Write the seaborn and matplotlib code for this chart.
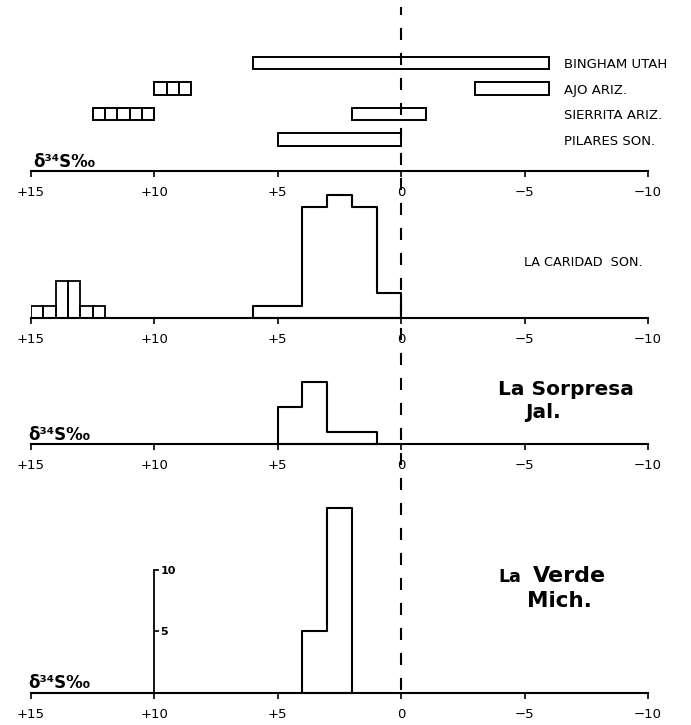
import numpy as np
import pandas as pd
import matplotlib
matplotlib.use("Agg")
import matplotlib.pyplot as plt
import seaborn as sns

# ---------------- data ----------------
tick_values = [15, 10, 5, 0, -5, -10]
tick_labels = ["+15", "+10", "+5", "0", "\u22125", "\u221210"]

# top panel: ranges of d34S (per mil) per deposit
deposits = ["PILARES SON.", "SIERRITA ARIZ.", "AJO ARIZ.", "BINGHAM UTAH"]
range_deposit = ["BINGHAM UTAH", "AJO ARIZ.", "AJO ARIZ.",
                 "SIERRITA ARIZ.", "SIERRITA ARIZ.", "PILARES SON."]
range_high = [6, 10, -3, 12.5, 2, 5]
range_low = [-6, 8.5, -6, 10, -1, 0]
range_nboxes = [1, 3, 1, 5, 1, 1]

# La Caridad, Son.
caridad_main_edges = [0, 1, 2, 3, 4, 5, 6]
caridad_main_counts = [2, 9, 10, 9, 1, 1]
caridad_high_edges = [12, 12.5, 13, 13.5, 14, 14.5, 15]
caridad_high_counts = [1, 1, 3, 3, 1, 1]
# La Sorpresa, Jal.
sorpresa_edges = [1, 2, 3, 4, 5]
sorpresa_counts = [1, 1, 5, 3]
# La Verde, Mich.
verde_edges = [2, 3, 4]
verde_counts = [15, 5]
verde_yticks = [5, 10]
verde_axis_x = 10

# ---------------- style ----------------
sns.set_style("ticks")
plt.rcParams["font.family"] = ["DejaVu Sans"]
for k in ["text.color", "axes.labelcolor", "xtick.color", "ytick.color",
          "axes.edgecolor"]:
    plt.rcParams[k] = "black"

W, H = 691, 725
fig = plt.figure(figsize=(W / 100, H / 100), dpi=100)
X0, X1 = 31, 648          # pixel columns of +15 and -10
PX_PER_COUNT = 12.35
LW = 1.5


def fx(px):
    return px / W


def fy(py):
    return 1 - py / H


def add_panel(base, top):
    ax = fig.add_axes([fx(X0), fy(base), (X1 - X0) / W, (base - top) / H])
    ax.patch.set_alpha(0)
    for s in ["top", "left", "right"]:
        ax.spines[s].set_visible(False)
    ax.spines["bottom"].set_linewidth(LW)
    ax.set_yticks([])
    return ax


def finish_x(ax):
    ax.set_xlim(15, -10)
    ax.set_xticks(tick_values)
    ax.set_xticklabels(tick_labels)
    ax.tick_params(axis="x", direction="out", length=4.5, width=1.2,
                   pad=6, labelsize=9.5, bottom=True, colors="black")
    ax.set_xlabel("")
    ax.set_ylabel("")


def hist_frame(edges, counts):
    e = [float(v) for v in edges]
    centers = [(a + b) / 2 for a, b in zip(e[:-1], e[1:])]
    return pd.DataFrame({"d34S": centers, "n": [float(c) for c in counts]}), e


def step_hist(ax, edges, counts):
    df, e = hist_frame(edges, counts)
    sns.histplot(data=df, x="d34S", weights="n", bins=e, element="step",
                 fill=True, color="black", facecolor=(1, 1, 1, 0),
                 edgecolor="black", linewidth=LW, clip_on=False, ax=ax)


def bar_hist(ax, edges, counts):
    df, e = hist_frame(edges, counts)
    sns.histplot(data=df, x="d34S", weights="n", bins=e, element="bars",
                 fill=False, color="black", linewidth=1.3, ax=ax)


def delta_label(py_base, px_left):
    fig.text(fx(px_left), fy(py_base), "\u03b4\u00b3\u2074S\u2030",
             fontsize=12, fontweight="bold", va="baseline", ha="left",
             color="black")


# ---------------- panel 1 : ranges ----------------
base1, top1 = 171, 0
row_px = 25.5
ax1 = add_panel(base1, top1)
row_pos = {d: i for i, d in enumerate(deposits)}
for dep, hi, lo, n in zip(range_deposit, range_high, range_low, range_nboxes):
    edges = np.linspace(hi, lo, n + 1)
    ax1.barh(y=[row_pos[dep]] * n, width=np.diff(edges), left=edges[:-1],
             height=0.5, fill=False, edgecolor="black", linewidth=1.4)
for dep, i in row_pos.items():
    ax1.text(-6.6, i - 0.06, dep, fontsize=9.5, va="center", ha="left",
             clip_on=False, color="black")
y0 = -31.5 / row_px
ax1.set_ylim(y0, y0 + (base1 - top1) / row_px)
finish_x(ax1)
delta_label(167, 33)

# ---------------- panel 2 : La Caridad ----------------
base2, top2 = 318, 185
ax2 = add_panel(base2, top2)
step_hist(ax2, caridad_main_edges, caridad_main_counts)
bar_hist(ax2, caridad_high_edges, caridad_high_counts)
ax2.set_ylim(0, (base2 - top2) / PX_PER_COUNT)
finish_x(ax2)
ax2.set_yticks([])
fig.text(fx(524), fy(263), "LA CARIDAD  SON.", fontsize=9.2,
         va="center", ha="left", color="black")

# ---------------- panel 3 : La Sorpresa ----------------
base3, top3 = 444, 350
ax3 = add_panel(base3, top3)
step_hist(ax3, sorpresa_edges, sorpresa_counts)
ax3.set_ylim(0, (base3 - top3) / PX_PER_COUNT)
finish_x(ax3)
ax3.set_yticks([])
fig.text(fx(498), fy(395), "La Sorpresa", fontsize=14.5, fontweight="bold",
         va="baseline", ha="left", color="black")
fig.text(fx(525), fy(418), "Jal.", fontsize=14.5, fontweight="bold",
         va="baseline", ha="left", color="black")
delta_label(440, 28)

# ---------------- panel 4 : La Verde ----------------
base4, top4 = 693, 485
ax4 = add_panel(base4, top4)
step_hist(ax4, verde_edges, verde_counts)
ax4.set_ylim(0, (base4 - top4) / PX_PER_COUNT)
finish_x(ax4)
# count axis drawn at x = +10
ax4.spines["right"].set_visible(True)
ax4.spines["right"].set_position(("data", verde_axis_x))
ax4.spines["right"].set_bounds(0, max(verde_yticks))
ax4.spines["right"].set_linewidth(1.3)
ax4.yaxis.tick_right()
ax4.set_yticks(verde_yticks)
ax4.set_yticklabels([str(v) for v in verde_yticks])
ax4.tick_params(axis="y", direction="out", length=3.5, width=1.2, pad=1,
                labelsize=8, left=False, right=True, colors="black")
for t in ax4.get_yticklabels():
    t.set_fontweight("bold")
fig.text(fx(498), fy(582), "La", fontsize=12.5, fontweight="bold",
         va="baseline", ha="left", color="black")
fig.text(fx(533), fy(582), "Verde", fontsize=16, fontweight="bold",
         va="baseline", ha="left", color="black")
fig.text(fx(527), fy(607), "Mich.", fontsize=15.5, fontweight="bold",
         va="baseline", ha="left", color="black")
delta_label(688, 28)

# ---------------- dashed zero line through all panels ----------------
axz = fig.add_axes([fx(X0), 0, (X1 - X0) / W, 1])
axz.set_xlim(15, -10)
axz.set_ylim(H, 0)
axz.axis("off")
axz.patch.set_alpha(0)
axz.axvline(0, ymin=(H - 690) / H, ymax=(H - 7) / H, color="black",
            linewidth=1.5, linestyle=(0, (5.8, 6.2)))

fig.savefig("out.png", dpi=100)
